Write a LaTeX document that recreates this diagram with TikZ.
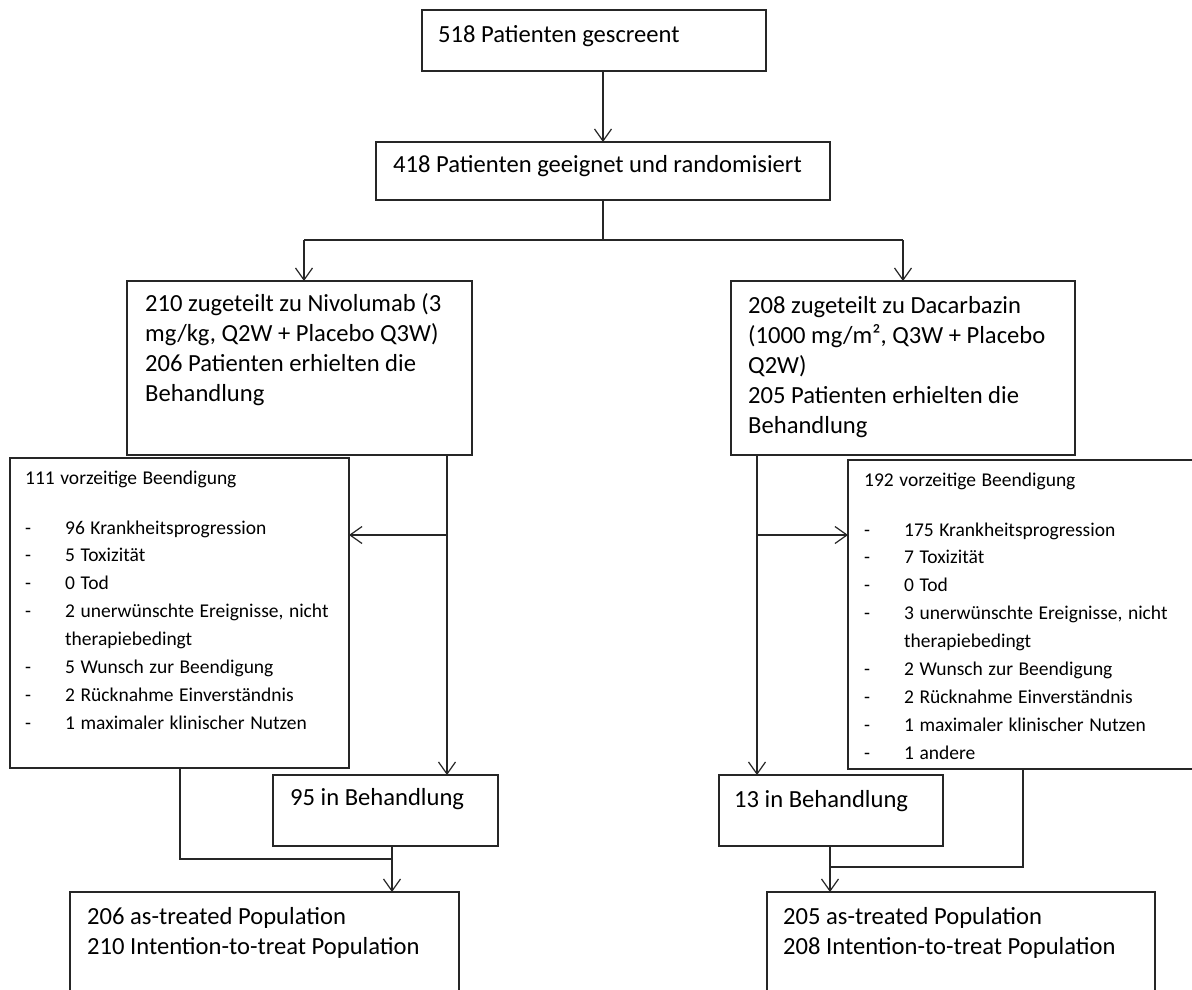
\documentclass[tikz,border=0pt]{standalone}
\usepackage{fontspec}
\setmainfont{Carlito}
\usetikzlibrary{arrows.meta}
\newcommand{\dashitem}[1]{\makebox[40pt][l]{-}#1}
\newcommand{\contitem}[1]{\hspace*{40pt}#1}
\newcommand{\widewords}{\spaceskip=5.5pt plus 1pt\relax}
\begin{document}
\begin{tikzpicture}[x=1pt,y=-1pt,
  line/.style={draw=black!85, line width=1.3pt},
  arr/.style={line, -{Straight Barb[length=12pt,width=17pt,line width=1.2pt]}},
  box/.style={line, rectangle, inner sep=0pt, outer sep=0pt, anchor=north west},
  maintxt/.style={inner sep=0pt, anchor=base west, font=\fontsize{24.6}{30}\selectfont},
  smalltxt/.style={inner sep=0pt, anchor=base west, font=\fontsize{19.5}{27.9}\selectfont\widewords}]

\fill[white] (0,0) rectangle (1192,989);
\useasboundingbox (0,0) rectangle (1192,989);
\clip (0,0) rectangle (1192,989);

% boxes
\node[box, minimum width=344pt, minimum height=61pt]  (b1) at (422,10)  {};
\node[box, minimum width=454pt, minimum height=58pt]  (b2) at (376,142) {};
\node[box, minimum width=345pt, minimum height=174pt] (b3) at (127,281) {};
\node[box, minimum width=344pt, minimum height=174pt] (b4) at (731,281) {};
\node[box, minimum width=339pt, minimum height=310pt] (q1) at (10,458)  {};
\node[box, minimum width=360pt, minimum height=309pt] (q2) at (848,460) {};
\node[box, minimum width=225pt, minimum height=71pt]  (t1) at (273,775) {};
\node[box, minimum width=224pt, minimum height=71pt]  (t2) at (719,775) {};
\node[box, minimum width=389pt, minimum height=120pt] (p1) at (70,892)  {};
\node[box, minimum width=388pt, minimum height=120pt] (p2) at (767,892) {};

% texts
\node[maintxt] (b1t) at (438,42)  {518 Patienten gescreent};
\node[maintxt] (b2t) at (393,172) {418 Patienten geeignet und randomisiert};
\node[maintxt] (b3t) at (145,311) {\begin{tabular}[t]{@{}l@{}}210 zugeteilt zu Nivolumab (3\\mg/kg, Q2W + Placebo Q3W)\\206 Patienten erhielten die\\Behandlung\end{tabular}};
\node[maintxt] (b4t) at (748,313) {\begin{tabular}[t]{@{}l@{}}208 zugeteilt zu Dacarbazin\\(1000 mg/m², Q3W + Placebo\\Q2W)\\205 Patienten erhielten die\\Behandlung\end{tabular}};
\node[smalltxt] (q1t) at (25,484) {\begin{tabular}[t]{@{}l@{}}111 vorzeitige Beendigung\\[22.1pt]
  \dashitem{96 Krankheitsprogression}\\
  \dashitem{5 Toxizität}\\
  \dashitem{0 Tod}\\
  \dashitem{2 unerwünschte Ereignisse, nicht}\\
  \contitem{therapiebedingt}\\
  \dashitem{5 Wunsch zur Beendigung}\\
  \dashitem{2 Rücknahme Einverständnis}\\
  \dashitem{1 maximaler klinischer Nutzen}\end{tabular}};
\node[smalltxt] (q2t) at (864,486) {\begin{tabular}[t]{@{}l@{}}192 vorzeitige Beendigung\\[22.1pt]
  \dashitem{175 Krankheitsprogression}\\
  \dashitem{7 Toxizität}\\
  \dashitem{0 Tod}\\
  \dashitem{3 unerwünschte Ereignisse, nicht}\\
  \contitem{therapiebedingt}\\
  \dashitem{2 Wunsch zur Beendigung}\\
  \dashitem{2 Rücknahme Einverständnis}\\
  \dashitem{1 maximaler klinischer Nutzen}\\
  \dashitem{1 andere}\end{tabular}};
\node[maintxt] (t1t) at (290,805) {95 in Behandlung};
\node[maintxt] (t2t) at (734,807) {13 in Behandlung};
\node[maintxt] (p1t) at (87,924) {\begin{tabular}[t]{@{}l@{}}206 as-treated Population\\210 Intention-to-treat Population\end{tabular}};
\node[maintxt] (p2t) at (783,924) {\begin{tabular}[t]{@{}l@{}}205 as-treated Population\\208 Intention-to-treat Population\end{tabular}};

% junction points
\coordinate (jn) at (603,240);
\coordinate (jl) at (304,240);
\coordinate (jr) at (903,240);
\coordinate (dl) at (447,535);
\coordinate (dr) at (757,535);
\coordinate (ql) at (180,859);
\coordinate (ml) at (392,859);
\coordinate (qr) at (1023,867);
\coordinate (mr) at (830,867);

% connectors
\draw[arr] (b2.north |- b1.south) -- (b2.north);
\draw[line] (b2.south) -- (jn);
\draw[line] (jl) -- (jr);
\draw[arr] (jl) -- (jl |- b3.north);
\draw[arr] (jr) -- (jr |- b4.north);

\draw[arr] (dl |- b3.south) -- (dl |- t1.north);
\draw[arr] (dl) -- (dl -| q1.east);
\draw[arr] (dr |- b4.south) -- (dr |- t2.north);
\draw[arr] (dr) -- (dr -| q2.west);

\draw[line] (ql |- q1.south) -- (ql) -- (ml);
\draw[arr] (ml |- t1.south) -- (ml |- p1.north);
\draw[line] (qr |- q2.south) -- (qr) -- (mr);
\draw[arr] (mr |- t2.south) -- (mr |- p2.north);
\end{tikzpicture}
\end{document}
